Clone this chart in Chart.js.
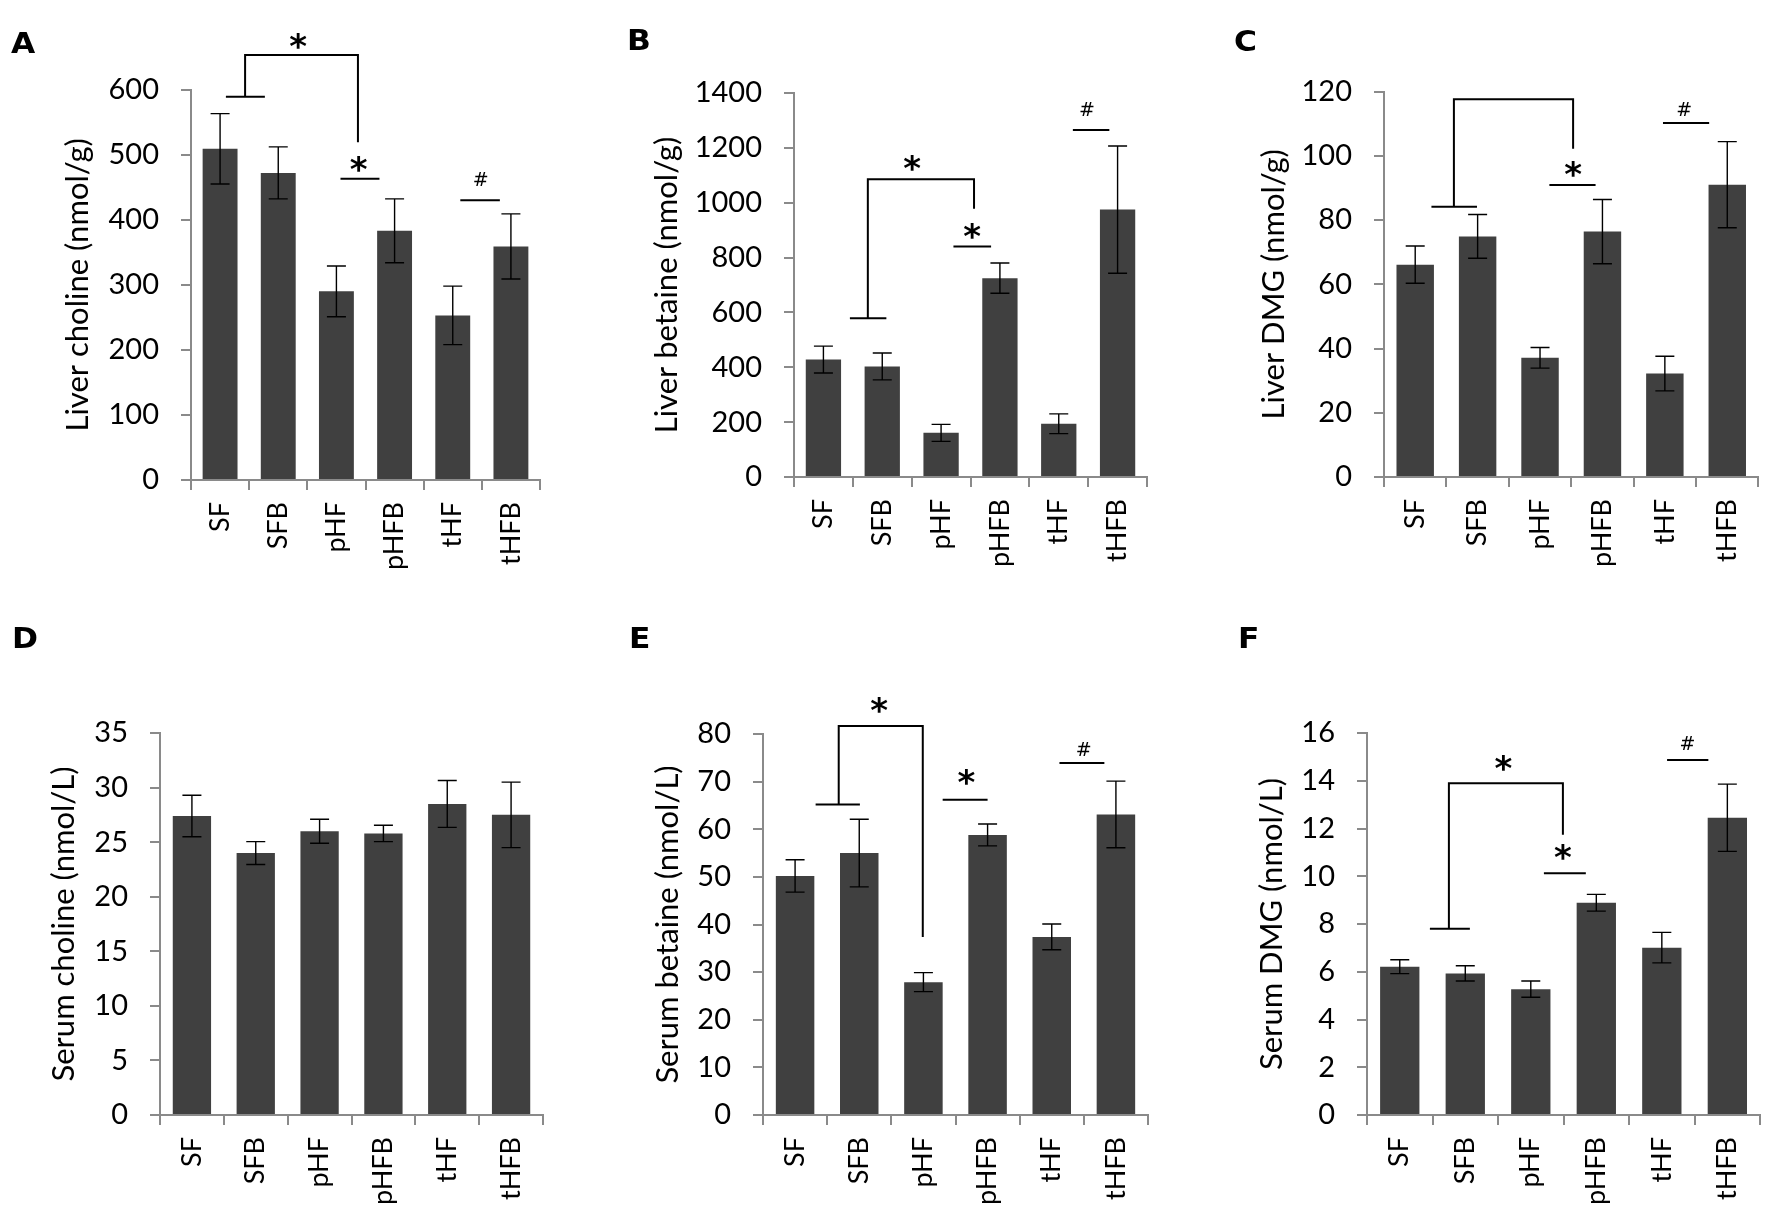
<!DOCTYPE html>
<html>
<head>
<meta charset="utf-8">
<script src="https://cdn.jsdelivr.net/npm/chart.js"></script>
<style>
  body { margin: 0; background: #fff; }
  #page { position: relative; width: 1772px; height: 1207px; background: #fff; overflow: hidden; }
  #page canvas { position: absolute; }
  .letter { position: absolute; font: bold 29px "DejaVu Sans", sans-serif; line-height: 29px; color: #000; transform: scaleX(1.08); transform-origin: left top; }
</style>
</head>
<body>
<div id="page">
  <canvas id="chartA"></canvas>
  <canvas id="chartB"></canvas>
  <canvas id="chartC"></canvas>
  <canvas id="chartD"></canvas>
  <canvas id="chartE"></canvas>
  <canvas id="chartF"></canvas>
  <div class="letter" style="left:11px;top:29px">A</div>
  <div class="letter" style="left:627px;top:26px">B</div>
  <div class="letter" style="left:1234px;top:27px">C</div>
  <div class="letter" style="left:12px;top:624px">D</div>
  <div class="letter" style="left:629px;top:624px">E</div>
  <div class="letter" style="left:1238px;top:624px">F</div>
</div>

<script>
// groups on the x axis
const groups = ['SF', 'SFB', 'pHF', 'pHFB', 'tHF', 'tHFB'];

// means and error bars
const liverCholine = [509, 472, 290, 383, 253, 359];
const liverCholineErr = [54, 40, 39, 49, 45, 50];
const liverBetaine = [428, 403, 161, 725, 194, 975];
const liverBetaineErr = [49, 49, 31, 55, 36, 232];
const liverDMG = [66.1, 74.9, 37.1, 76.4, 32.2, 91.0];
const liverDMGErr = [5.8, 6.8, 3.2, 10.0, 5.4, 13.4];
const serumCholine = [27.4, 24.0, 26.0, 25.8, 28.5, 27.5];
const serumCholineErr = [1.9, 1.05, 1.1, 0.75, 2.15, 3.0];
const serumBetaine = [50.2, 55.0, 27.9, 58.8, 37.4, 63.1];
const serumBetaineErr = [3.4, 7.1, 2.0, 2.3, 2.7, 7.0];
const serumDMG = [6.21, 5.93, 5.27, 8.89, 7.01, 12.45];
const serumDMGErr = [0.29, 0.32, 0.34, 0.35, 0.64, 1.41];

// significance marks, x in group index units, y in data units
// lines: [x1, x2, y]; bracket: [x1, y1, yTop, x2, y2]; marks: [text, x, y]
const liverCholineLines = [[0.10, 0.77, 589], [2.07, 2.74, 463], [4.13, 4.81, 430]];
const liverCholineBracket = [0.43, 589, 653, 2.37, 519];
const liverCholineMarks = [['*', 1.34, 675], ['*', 2.38, 486], ['#', 4.48, 463]];

const liverBetaineLines = [[0.45, 1.07, 579], [2.21, 2.85, 840], [4.24, 4.86, 1265]];
const liverBetaineBracket = [0.755, 579, 1086, 2.56, 978];
const liverBetaineMarks = [['*', 1.51, 1143], ['*', 2.53, 898], ['#', 4.48, 1340]];

const liverDMGLines = [[0.26, 0.99, 84.1], [2.15, 2.89, 90.9], [3.97, 4.71, 110.2]];
const liverDMGBracket = [0.62, 84.1, 117.6, 2.53, 102.2];
const liverDMGMarks = [['*', 2.53, 96], ['#', 4.31, 114.4]];

const serumBetaineLines = [[0.32, 1.01, 65.2], [2.30, 3.00, 66.2], [4.12, 4.82, 73.9]];
const serumBetaineBracket = [0.68, 65.2, 81.7, 1.99, 37.4];
const serumBetaineMarks = [['*', 1.31, 86], ['*', 2.67, 71], ['#', 4.50, 76.8]];

const serumDMGLines = [[0.46, 1.07, 7.8], [2.20, 2.84, 10.13], [4.08, 4.71, 14.87]];
const serumDMGBracket = [0.75, 7.8, 13.9, 2.49, 11.74];
const serumDMGMarks = [['*', 1.58, 14.75], ['*', 2.49, 11.0], ['#', 4.39, 15.6]];

const AXIS_GREY = '#8a8a8a';
const BAR_COLOR = '#404040';
const FONT = 'Lato, "Open Sans", sans-serif';

// error bars + significance brackets
const extrasPlugin = {
  id: 'extras',
  afterDatasetsDraw(chart) {
    const o = chart.options.plugins.extras;
    const ctx = chart.ctx;
    const xs = chart.scales.x, ys = chart.scales.y;
    const meta = chart.getDatasetMeta(0);
    const vals = chart.data.datasets[0].data;
    ctx.save();
    ctx.strokeStyle = '#000';
    ctx.lineWidth = 1.4;
    meta.data.forEach((bar, i) => {
      const v = vals[i], e = o.err[i];
      const top = ys.getPixelForValue(v + e), bot = ys.getPixelForValue(v - e);
      ctx.beginPath();
      ctx.moveTo(bar.x, top); ctx.lineTo(bar.x, bot);
      ctx.moveTo(bar.x - 9.5, top); ctx.lineTo(bar.x + 9.5, top);
      ctx.moveTo(bar.x - 9.5, bot); ctx.lineTo(bar.x + 9.5, bot);
      ctx.stroke();
    });
    ctx.lineWidth = 2;
    (o.lines || []).forEach(([x1, x2, y]) => {
      ctx.beginPath();
      ctx.moveTo(xs.getPixelForValue(x1), ys.getPixelForValue(y));
      ctx.lineTo(xs.getPixelForValue(x2), ys.getPixelForValue(y));
      ctx.stroke();
    });
    if (o.bracket) {
      const [x1, y1, yt, x2, y2] = o.bracket;
      ctx.beginPath();
      ctx.moveTo(xs.getPixelForValue(x1), ys.getPixelForValue(y1));
      ctx.lineTo(xs.getPixelForValue(x1), ys.getPixelForValue(yt));
      ctx.lineTo(xs.getPixelForValue(x2), ys.getPixelForValue(yt));
      ctx.lineTo(xs.getPixelForValue(x2), ys.getPixelForValue(y2));
      ctx.stroke();
    }
    ctx.fillStyle = '#000';
    ctx.textAlign = 'center';
    ctx.textBaseline = 'alphabetic';
    (o.marks || []).forEach(([t, x, y]) => {
      ctx.font = t === '*' ? 'bold 34px "DejaVu Sans", sans-serif' : '19px "DejaVu Sans", sans-serif';
      const m = ctx.measureText(t);
      const px = xs.getPixelForValue(x), py = ys.getPixelForValue(y);
      ctx.fillText(t, px, py + (m.actualBoundingBoxAscent - m.actualBoundingBoxDescent) / 2);
    });
    ctx.restore();
  }
};

function makePanel(id, box, area, title, titlePad, values, err, yMax, step, lines, bracket, marks) {
  const canvas = document.getElementById(id);
  canvas.width = box.w; canvas.height = box.h;
  canvas.style.left = box.x + 'px'; canvas.style.top = box.y + 'px';
  canvas.style.width = box.w + 'px'; canvas.style.height = box.h + 'px';
  const yWidth = area.l - box.x;
  const xHeight = box.y + box.h - area.b;
  new Chart(canvas, {
    type: 'bar',
    data: {
      labels: groups,
      datasets: [{ data: values, backgroundColor: BAR_COLOR, barPercentage: 0.6, categoryPercentage: 1 }]
    },
    options: {
      responsive: false,
      animation: false,
      devicePixelRatio: 1,
      layout: { padding: { left: 0, top: area.t - box.y, right: box.x + box.w - area.r, bottom: 0 } },
      plugins: {
        legend: { display: false },
        tooltip: { enabled: false },
        extras: { err: err, lines: lines, bracket: bracket, marks: marks }
      },
      scales: {
        x: {
          offset: true,
          grid: { offset: true, drawOnChartArea: false, drawTicks: true, tickLength: 10, color: AXIS_GREY, lineWidth: 2 },
          border: { color: AXIS_GREY, width: 2 },
          ticks: { color: '#000', font: { family: FONT, size: 27 }, minRotation: 90, maxRotation: 90, autoSkip: false, padding: 12 },
          afterFit: s => { s.height = xHeight; }
        },
        y: {
          min: 0, max: yMax,
          grid: { drawOnChartArea: false, drawTicks: true, tickLength: 10, color: AXIS_GREY, lineWidth: 2 },
          border: { color: AXIS_GREY, width: 2 },
          ticks: { stepSize: step, color: '#000', font: { family: FONT, size: 29 }, padding: 22, callback: v => String(v) },
          title: { display: true, text: title, color: '#000', font: { family: FONT, size: 31 }, padding: { top: titlePad, bottom: 0 } },
          afterFit: s => { s.width = yWidth; }
        }
      }
    },
    plugins: [extrasPlugin]
  });
}

makePanel('chartA', { x: 0, y: 0, w: 590, h: 607 }, { l: 191, t: 89.6, r: 540, b: 480 },
  'Liver choline (nmol/g)', 59, liverCholine, liverCholineErr, 600, 100,
  liverCholineLines, liverCholineBracket, liverCholineMarks);
makePanel('chartB', { x: 590, y: 0, w: 582, h: 607 }, { l: 794, t: 93, r: 1147, b: 477 },
  'Liver betaine (nmol/g)', 58, liverBetaine, liverBetaineErr, 1400, 200,
  liverBetaineLines, liverBetaineBracket, liverBetaineMarks);
makePanel('chartC', { x: 1172, y: 0, w: 600, h: 607 }, { l: 1384, t: 91.5, r: 1768, b: 477 },
  'Liver DMG (nmol/g)', 83, liverDMG, liverDMGErr, 120, 20,
  liverDMGLines, liverDMGBracket, liverDMGMarks);
makePanel('chartD', { x: 0, y: 607, w: 590, h: 600 }, { l: 160, t: 733, r: 543, b: 1115 },
  'Serum choline (nmol/L)', 45, serumCholine, serumCholineErr, 35, 5,
  [], null, []);
makePanel('chartE', { x: 590, y: 607, w: 582, h: 600 }, { l: 763, t: 734, r: 1148, b: 1115 },
  'Serum betaine (nmol/L)', 59, serumBetaine, serumBetaineErr, 80, 10,
  serumBetaineLines, serumBetaineBracket, serumBetaineMarks);
makePanel('chartF', { x: 1172, y: 607, w: 600, h: 600 }, { l: 1367, t: 733, r: 1769, b: 1115 },
  'Serum DMG (nmol/L)', 81, serumDMG, serumDMGErr, 16, 2,
  serumDMGLines, serumDMGBracket, serumDMGMarks);
</script>
</body>
</html>
